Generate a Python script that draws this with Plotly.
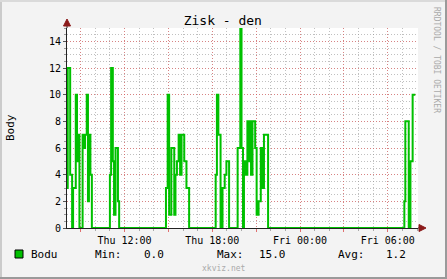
import plotly.graph_objects as go
import pandas as pd

# ---- data (change points of a step series, value holds until next point) ----
day0 = "2024-01-04"   # Thursday
day1 = "2024-01-05"   # Friday
times = [
    # cluster 1
    "0 08:04", "0 08:07", "0 08:17", "0 08:25", "0 08:29", "0 08:40", "0 08:45", "0 08:49",
    "0 08:55", "0 09:08", "0 09:14", "0 09:18", "0 09:25", "0 09:30", "0 09:34", "0 09:40", "0 09:46",
    # cluster 2
    "0 11:00", "0 11:05", "0 11:12", "0 11:17", "0 11:23", "0 11:33", "0 11:38",
    # cluster 3
    "0 14:50", "0 14:57", "0 15:03", "0 15:12", "0 15:24", "0 15:29", "0 15:35", "0 15:42",
    "0 15:48", "0 15:54", "0 16:05", "0 16:14", "0 16:25",
    # cluster 4
    "0 18:14", "0 18:19", "0 18:25", "0 18:34", "0 18:42", "0 18:51", "0 18:58", "0 19:09",
    # cluster 5
    "0 19:44", "0 19:55", "0 20:00", "0 20:06", "0 20:10", "0 20:17", "0 20:24", "0 20:30",
    "0 20:34", "0 20:39", "0 20:45", "0 20:56", "0 21:02", "0 21:10", "0 21:19", "0 21:27",
    "0 21:32", "0 21:49",
    # cluster 6
    "1 07:08", "1 07:12", "1 07:26", "1 07:33", "1 07:42", "1 07:53",
]
values = [
    3, 12, 4, 0, 3, 10, 5, 7,
    0, 7, 6, 7, 10, 2, 7, 4, 0,
    4, 12, 5, 1, 6, 2, 0,
    3, 10, 1, 6, 1, 4, 5, 7,
    4, 7, 5, 3, 0,
    4, 10, 7, 0, 3, 4, 5, 0,
    6, 15, 6, 0, 5, 4, 8, 5,
    8, 4, 8, 6, 1, 2, 6, 3,
    7, 0,
    2, 8, 0, 5, 10, 10,
]
series_name = "Bodu"
legend_stats = [("Min:", "0.0"), ("Max:", "15.0"), ("Avg:", "1.2")]
title_text = "Zisk - den"
y_label = "Body"
x_range = [day0 + " 08:04", day1 + " 08:04"]
y_ticks = [0, 2, 4, 6, 8, 10, 12, 14]

def to_ts(s):
    d, hm = s.split(" ")
    return pd.Timestamp((day0 if d == "0" else day1) + " " + hm)

xs = [to_ts(s) for s in times]

GREEN = "#00C000"
MONO = "DejaVu Sans Mono"
MAJ = "rgba(230,90,90,0.6)"
MIN = "rgba(140,140,140,0.55)"
DASH = "1px,2px"

fig = go.Figure()
fig.add_trace(go.Scatter(x=xs, y=values, mode="lines", line=dict(color=GREEN, width=2, shape="hv"),
                         showlegend=False, hoverinfo="skip"))

# ticks every 3 h, labels every 6 h
tick_dates = pd.date_range(day0 + " 09:00", day1 + " 06:00", freq="3h")
tick_text = [d.strftime("%a %H:%M") if d.hour % 6 == 0 else "" for d in tick_dates]

W, H = 447, 279
L, R, T, B = 67, 29, 28, 51
PW, PH = W - L - R, H - T - B

def px(x):
    return (x - L) / PW

def py(y):
    return (H - B - y) / PH

fig.update_layout(
    width=W, height=H, margin=dict(l=L, r=R, t=T, b=B),
    paper_bgcolor="#F3F3F3", plot_bgcolor="#FFFFFF",
    font=dict(family=MONO, size=10, color="#000"),
    title=dict(text=title_text, x=222.8 / W, y=1 - 20 / H, xanchor="center", yanchor="middle",
               font=dict(family=MONO, size=13, color="#000")),
    xaxis=dict(type="date", range=x_range, tickmode="array", tickvals=list(tick_dates), ticktext=tick_text,
               showgrid=True, gridcolor=MAJ, griddash=DASH, gridwidth=1,
               ticks="outside", ticklen=3, tickcolor="#E07070",
               showline=True, linecolor="#222", linewidth=1, zeroline=False,
               tickfont=dict(family=MONO, size=10),
               minor=dict(dtick=3600000, tick0=day0 + " 00:00", showgrid=True,
                          gridcolor=MIN, griddash=DASH, gridwidth=1,
                          ticks="outside", ticklen=2, tickcolor="#AAAAAA")),
    yaxis=dict(range=[0, 15], tickmode="array", tickvals=y_ticks,
               showgrid=True, gridcolor=MAJ, griddash=DASH, gridwidth=1,
               ticks="outside", ticklen=3, tickcolor="#555",
               showline=True, linecolor="#222", linewidth=1, zeroline=False,
               tickfont=dict(family=MONO, size=10),
               minor=dict(dtick=0.5, tick0=0, showgrid=True,
                          gridcolor=MIN, griddash=DASH, gridwidth=1,
                          ticks="outside", ticklen=2, tickcolor="#999")),
)

def note(text, x, y, size, color="#000", xanchor="center", angle=0):
    return dict(text=text, x=px(x), y=py(y), xanchor=xanchor, yanchor="middle", textangle=angle,
                showarrow=False, xref="paper", yref="paper", borderpad=0,
                font=dict(family=MONO, size=size, color=color))

ann = []
ann.append(note(y_label, 10, 128, 11, angle=-90))
ann.append(note("RRDTOOL / TOBI OETIKER", 437, 60, 8, color="#AAAAAA", angle=90))
ann.append(note(series_name, 30, 254.3, 11, xanchor="left"))
stat_pos = [(94, 143), (215.5, 257.5), (336.5, 385)]
for (lab, val), (xl, xv) in zip(legend_stats, stat_pos):
    ann.append(note(lab, xl, 254.3, 11, xanchor="left"))
    ann.append(note(val, xv, 254.3, 11, xanchor="left"))
ann.append(note("xkviz.net", 223.7, 268.3, 8, color="#AAAAAA"))
fig.update_layout(annotations=ann)

shapes = []
# legend swatch
shapes.append(dict(type="rect", xref="paper", yref="paper", x0=px(15), x1=px(23), y0=py(250), y1=py(258),
                   fillcolor=GREEN, line=dict(color="#000", width=1)))
# axis extensions and arrows
shapes.append(dict(type="line", xref="paper", yref="paper", x0=0, x1=0, y0=1, y1=py(24),
                   line=dict(color="#222", width=1)))
shapes.append(dict(type="line", xref="paper", yref="paper", x0=1, x1=px(421), y0=0, y1=0,
                   line=dict(color="#222", width=1)))
shapes.append(dict(type="path", xref="paper", yref="paper",
                   path=f"M {px(67)} {py(19)} L {px(63.5)} {py(26)} L {px(70.5)} {py(26)} Z",
                   fillcolor="#8B1A1A", line=dict(color="#8B1A1A", width=1)))
shapes.append(dict(type="path", xref="paper", yref="paper",
                   path=f"M {px(426)} {py(228)} L {px(419)} {py(224.5)} L {px(419)} {py(231.5)} Z",
                   fillcolor="#8B1A1A", line=dict(color="#8B1A1A", width=1)))
# frame
shapes.append(dict(type="rect", xref="paper", yref="paper", x0=px(0), x1=px(2), y0=py(H), y1=py(0),
                   fillcolor="#CBCBCB", line=dict(width=0), layer="below"))
shapes.append(dict(type="rect", xref="paper", yref="paper", x0=px(0), x1=px(W), y0=py(2), y1=py(0),
                   fillcolor="#DADADA", line=dict(width=0), layer="below"))
shapes.append(dict(type="rect", xref="paper", yref="paper", x0=px(W - 2), x1=px(W), y0=py(H), y1=py(0),
                   fillcolor="#9A9A9A", line=dict(width=0), layer="below"))
shapes.append(dict(type="rect", xref="paper", yref="paper", x0=px(0), x1=px(W), y0=py(H), y1=py(H - 2),
                   fillcolor="#9A9A9A", line=dict(width=0), layer="below"))
fig.update_layout(shapes=shapes)

fig.write_html("out.html")
